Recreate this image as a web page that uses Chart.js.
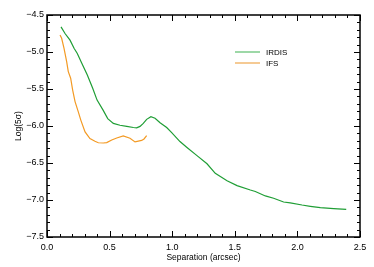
<!DOCTYPE html>
<html>
<head>
<meta charset="utf-8">
<script src="https://cdn.jsdelivr.net/npm/chart.js@4"></script>
<style>
  html, body { margin: 0; padding: 0; background: #fff; }
  #wrap { width: 374px; height: 267px; }
</style>
</head>
<body>
<div id="wrap"><canvas id="c" width="374" height="267"></canvas></div>
<script>
// separation (arcsec) and log(5 sigma) contrast
const irdisSep = [0.112, 0.144, 0.184, 0.216, 0.242, 0.277, 0.322, 0.365, 0.400, 0.448, 0.485, 0.530, 0.583, 0.637, 0.690, 0.716, 0.743, 0.769, 0.796, 0.830, 0.863, 0.903, 0.956, 0.996, 1.062, 1.118, 1.198, 1.278, 1.344, 1.438, 1.518, 1.624, 1.664, 1.744, 1.810, 1.890, 1.943, 2.037, 2.103, 2.183, 2.290, 2.390];
const irdisLog = [-4.66, -4.75, -4.84, -4.95, -5.02, -5.15, -5.31, -5.49, -5.65, -5.785, -5.90, -5.965, -5.99, -6.005, -6.02, -6.025, -6.005, -5.965, -5.91, -5.875, -5.895, -5.955, -6.02, -6.09, -6.21, -6.29, -6.40, -6.51, -6.64, -6.74, -6.805, -6.865, -6.885, -6.945, -6.977, -7.027, -7.04, -7.068, -7.085, -7.104, -7.117, -7.126];
const ifsSep = [0.104, 0.117, 0.136, 0.157, 0.170, 0.189, 0.205, 0.224, 0.250, 0.270, 0.304, 0.343, 0.383, 0.410, 0.450, 0.477, 0.517, 0.557, 0.609, 0.663, 0.703, 0.756, 0.775, 0.796];
const ifsLog = [-4.77, -4.815, -4.95, -5.13, -5.265, -5.355, -5.515, -5.67, -5.81, -5.92, -6.08, -6.17, -6.207, -6.226, -6.23, -6.225, -6.19, -6.162, -6.135, -6.165, -6.215, -6.195, -6.175, -6.13];
const seriesNames = ["IRDIS", "IFS"];
const xTicks = [0.0, 0.5, 1.0, 1.5, 2.0, 2.5];
const yTicks = [-4.5, -5.0, -5.5, -6.0, -6.5, -7.0, -7.5];

const GREEN = "#1f9e35";
const ORANGE = "#f39a24";
const FONT = "Liberation Sans";

const toPoints = (xs, ys) => xs.map((x, i) => ({ x: x, y: ys[i] }));

// IDL style box: inward major/minor ticks on all four sides, plus legend
const boxPlugin = {
  id: "box",
  afterDraw(chart) {
    const { ctx, chartArea: a, scales } = chart;
    const xs = scales.x, ys = scales.y;
    ctx.save();
    ctx.strokeStyle = "#000";
    ctx.lineWidth = 1.5;
    ctx.strokeRect(a.left, a.top, a.right - a.left, a.bottom - a.top);
    ctx.lineWidth = 1;
    for (let i = 0; i <= 25; i++) {
      const v = i / 10;
      const px = Math.round(xs.getPixelForValue(v)) + 0.5;
      const len = i % 5 === 0 ? 6 : 3;
      ctx.beginPath();
      ctx.moveTo(px, a.bottom); ctx.lineTo(px, a.bottom - len);
      ctx.moveTo(px, a.top); ctx.lineTo(px, a.top + len);
      ctx.stroke();
    }
    for (let i = 0; i <= 30; i++) {
      const v = -4.5 - i / 10;
      const py = Math.round(ys.getPixelForValue(v)) + 0.5;
      const len = i % 5 === 0 ? 6 : 3;
      ctx.beginPath();
      ctx.moveTo(a.left, py); ctx.lineTo(a.left + len, py);
      ctx.moveTo(a.right, py); ctx.lineTo(a.right - len, py);
      ctx.stroke();
    }
    // legend
    const colors = ["#7dcb8a", "#f2b870"];
    ctx.font = "8px '" + FONT + "'";
    ctx.textBaseline = "middle";
    ctx.fillStyle = "#000";
    seriesNames.forEach((name, i) => {
      const y = 52 + i * 11;
      ctx.strokeStyle = colors[i];
      ctx.lineWidth = 1.5;
      ctx.beginPath();
      ctx.moveTo(235, y); ctx.lineTo(260, y);
      ctx.stroke();
      ctx.fillText(name, 266, y + 0.5);
    });
    ctx.restore();
  }
};

new Chart(document.getElementById("c"), {
  type: "scatter",
  data: {
    datasets: [
      { label: seriesNames[0], data: toPoints(irdisSep, irdisLog), showLine: true, borderColor: GREEN, borderWidth: 1.2, pointRadius: 0, tension: 0 },
      { label: seriesNames[1], data: toPoints(ifsSep, ifsLog), showLine: true, borderColor: ORANGE, borderWidth: 1.2, pointRadius: 0, tension: 0 }
    ]
  },
  options: {
    responsive: false,
    animation: false,
    layout: { padding: { top: 15, right: 14, left: 0, bottom: 0 } },
    plugins: { legend: { display: false }, tooltip: { enabled: false } },
    scales: {
      x: {
        type: "linear",
        min: 0, max: 2.5,
        afterBuildTicks: (s) => { s.ticks = xTicks.map(v => ({ value: v })); },
        afterFit: (s) => { s.height = 30; },
        grid: { display: false, drawTicks: false },
        border: { display: false },
        ticks: {
          padding: 5, color: "#000",
          font: { family: FONT, size: 9 },
          maxRotation: 0,
          callback: (v) => v.toFixed(1)
        },
        title: { display: true, text: "Separation (arcsec)", color: "#000", font: { family: FONT, size: 8.5 }, padding: { top: 0, bottom: 4 } }
      },
      y: {
        type: "linear",
        min: -7.5, max: -4.5,
        afterBuildTicks: (s) => { s.ticks = yTicks.map(v => ({ value: v })); },
        afterFit: (s) => { s.width = 47; },
        grid: { display: false, drawTicks: false },
        border: { display: false },
        ticks: {
          padding: 3, color: "#000",
          font: { family: FONT, size: 9 },
          callback: (v) => v.toFixed(1).replace("-", "\u2212")
        },
        title: { display: true, text: "Log(5\u03c3)", color: "#000", font: { family: FONT, size: 8.5 }, padding: { top: 14, bottom: 0 } }
      }
    }
  },
  plugins: [boxPlugin]
});
</script>
</body>
</html>
